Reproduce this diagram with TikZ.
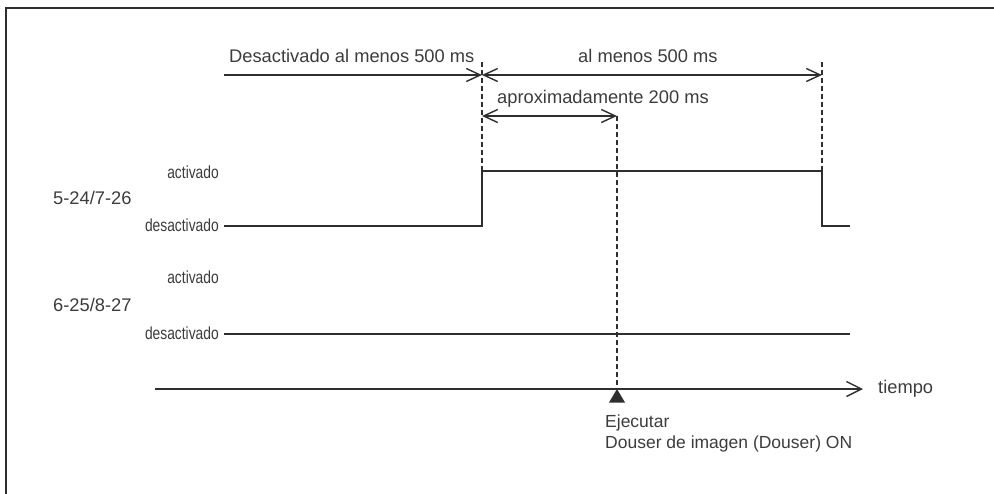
\documentclass[tikz,border=0pt]{standalone}
\usepackage{fontspec}
\setmainfont{Liberation Sans}
\newfontfamily\condfont[FakeStretch=0.79]{Liberation Sans}
\usetikzlibrary{arrows.meta}
\definecolor{ink}{HTML}{2E2E2E}
\definecolor{txt}{HTML}{3C3C3C}
\tikzset{
  sig/.style={draw=ink, line width=1.4pt},
  guide/.style={draw=ink, line width=1.3pt, dash pattern=on 5pt off 3pt},
  dim/.style={draw=ink, line width=1.4pt},
  tip/.tip={Straight Barb[length=14pt,width=13pt]},
  big/.style={text=txt, inner sep=0pt, font=\fontsize{18.3}{20}\selectfont},
  small/.style={text=txt, inner sep=0pt, font=\fontsize{17.5}{20}\selectfont},
  cond/.style={text=txt, inner sep=0pt, font=\condfont\fontsize{17.5}{20}\selectfont},
}
\begin{document}
\begin{tikzpicture}[x=1pt, y=-1pt]
\useasboundingbox (0,0) rectangle (994,493);
% frame
\draw[ink, line width=2pt] (6,496) -- (6,7.5) -- (997,7.5);

% key coordinates
\coordinate (s1start) at (224,226);
\coordinate (riseLo) at (482,226);
\coordinate (riseHi) at (482,171);
\coordinate (fallHi) at (822,171);
\coordinate (fallLo) at (822,226);
\coordinate (s1end) at (850,226);
\coordinate (s2start) at (224,334);
\coordinate (s2end) at (850,334);
\coordinate (dimA) at (224,75);
\coordinate (dimL) at (482,75);
\coordinate (dimR) at (822,75);
\coordinate (guideLtop) at (482,62);
\coordinate (guideRtop) at (822,62);
\coordinate (apL) at (482,116);
\coordinate (apM) at (617,116);
\coordinate (axS) at (155,389);
\coordinate (axE) at (863,389);
\coordinate (exec) at (617,389);

% guides
\draw[guide] (guideLtop) -- (riseHi);
\draw[guide] (guideRtop) -- (fallHi);
\draw[guide] (apM) -- (exec);

% dimension arrows
\draw[dim, -{tip}] (dimA) -- (dimL);
\draw[dim, {tip}-{tip}] (dimL) -- (dimR);
\draw[dim, {tip}-{tip}] (apL) -- (apM);

% signals
\draw[sig] (s1start) -- (riseLo) -- (riseHi) -- (fallHi) -- (fallLo) -- (s1end);
\draw[sig] (s2start) -- (s2end);

% time axis
\draw[sig, -{Straight Barb[length=15pt,width=15pt]}] (axS) -- (axE);
\fill[ink] (exec) -- ++(8,13.5) -- ++(-16,0) -- cycle;

% texts
\node[big, anchor=base west] (t1) at (229,62) {Desactivado al menos 500 ms};
\node[big, anchor=base west] (t2) at (578,62) {al menos 500 ms};
\node[big, anchor=base west] (t3) at (497,103) {aproximadamente 200 ms};
\node[cond, anchor=base east] (on1) at (219,178) {activado};
\node[cond, anchor=base east] (off1) at (219,231) {desactivado};
\node[big, anchor=base west] (n1) at (53,204) {5-24/7-26};
\node[cond, anchor=base east] (on2) at (219,283) {activado};
\node[cond, anchor=base east] (off2) at (219,339) {desactivado};
\node[big, anchor=base west] (n2) at (53,311) {6-25/8-27};
\node[big, anchor=base west] (tm) at (878,393) {tiempo};
\node[small, anchor=base west] (ex1) at (605,427) {Ejecutar};
\node[small, anchor=base west] (ex2) at (605,448) {Douser de imagen (Douser) ON};
\end{tikzpicture}
\end{document}
